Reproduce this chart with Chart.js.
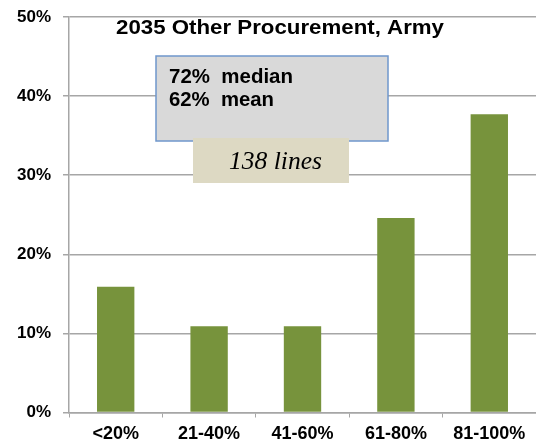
<!DOCTYPE html>
<html>
<head>
<meta charset="utf-8">
<script src="https://cdn.jsdelivr.net/npm/chart.js@4.4.0/dist/chart.umd.min.js"></script>
<style>
  html, body { margin: 0; padding: 0; background: #fff; overflow: hidden; }
  #chart { display: block; }
</style>
</head>
<body>
<canvas id="chart" width="536" height="445"></canvas>
<script>
// bins of % obligated, share of the 138 budget lines
const categories = ['<20%', '21-40%', '41-60%', '61-80%', '81-100%'];
const shares = [15.9, 10.9, 10.9, 24.6, 37.7];
const yTicks = [0, 10, 20, 30, 40, 50];

const titleText = '2035 Other Procurement, Army';
const statLines = ['72%  median', '62%  mean'];
const countText = '138 lines';

const barColor = '#77933c';
const gridColor = '#a6a6a6';

// draw text squeezed/stretched to a given width (the original is a bit wide)
function fitText(ctx, text, left, baseline, width) {
    const w = ctx.measureText(text).width;
    ctx.save();
    ctx.translate(left, baseline);
    ctx.scale(width / w, 1);
    ctx.fillText(text, 0, 0);
    ctx.restore();
}

// title and the two text boxes sitting on top of the plot
const overlayPlugin = {
    id: 'overlay',
    afterDatasetsDraw(chart) {
        const ctx = chart.ctx;
        ctx.save();
        ctx.textBaseline = 'alphabetic';
        ctx.textAlign = 'left';

        ctx.fillStyle = '#000';
        ctx.font = 'bold 20px "Liberation Sans", Arial, sans-serif';
        fitText(ctx, titleText, 116, 34, 328);

        // stats box
        ctx.fillStyle = '#d9d9d9';
        ctx.fillRect(156, 56, 232, 85);
        ctx.strokeStyle = '#6f97cc';
        ctx.lineWidth = 1.5;
        ctx.strokeRect(156, 56, 232, 85);

        ctx.fillStyle = '#000';
        ctx.font = 'bold 20px "Liberation Sans", Arial, sans-serif';
        fitText(ctx, statLines[0], 169, 83, 124);
        fitText(ctx, statLines[1], 169, 106, 105);

        // line count box
        ctx.fillStyle = '#ddd9c3';
        ctx.fillRect(193, 138, 156, 45);
        ctx.fillStyle = '#000';
        ctx.font = 'italic 26px "Liberation Serif", "Times New Roman", serif';
        fitText(ctx, countText, 229, 169, 93);

        ctx.restore();
    }
};

const ctx = document.getElementById('chart').getContext('2d');
new Chart(ctx, {
    type: 'bar',
    data: {
        labels: categories,
        datasets: [{
            data: shares,
            backgroundColor: barColor,
            borderWidth: 0,
            barPercentage: 0.4,
            categoryPercentage: 1.0
        }]
    },
    options: {
        responsive: false,
        animation: false,
        layout: { padding: { top: 17, right: 0, left: 0, bottom: 0 } },
        plugins: {
            legend: { display: false },
            tooltip: { enabled: false },
            title: { display: false }
        },
        scales: {
            x: {
                offset: true,
                grid: {
                    offset: true,
                    drawOnChartArea: false,
                    drawTicks: true,
                    tickLength: 5,
                    color: gridColor
                },
                border: { color: gridColor, width: 1.5 },
                ticks: {
                    color: '#000',
                    padding: 6,
                    maxRotation: 0,
                    font: { family: '"Liberation Sans", Arial, sans-serif', size: 18, weight: 'bold' }
                },
                afterFit(scale) {
                    scale.height = 32.5;
                    scale.paddingLeft = 0;
                    scale.paddingRight = 0;
                }
            },
            y: {
                min: 0,
                max: 50,
                afterBuildTicks(scale) {
                    scale.ticks = yTicks.map(v => ({ value: v }));
                },
                grid: {
                    color: gridColor,
                    lineWidth: 1.5,
                    drawTicks: true,
                    tickLength: 6
                },
                border: { color: gridColor, width: 1.5 },
                ticks: {
                    color: '#000',
                    padding: 12,
                    callback: v => v + '%',
                    font: { family: '"Liberation Sans", Arial, sans-serif', size: 17, weight: 'bold' }
                },
                afterFit(scale) {
                    scale.width = 69;
                    scale.paddingTop = 0;
                    scale.paddingBottom = 0;
                }
            }
        }
    },
    plugins: [overlayPlugin]
});
</script>
</body>
</html>
